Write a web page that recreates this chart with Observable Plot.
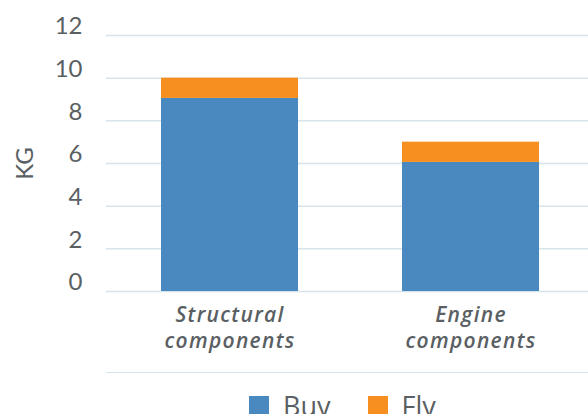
<!DOCTYPE html>
<html>
<head>
<meta charset="utf-8">
<script src="https://cdn.jsdelivr.net/npm/d3@7"></script>
<script src="https://cdn.jsdelivr.net/npm/@observablehq/plot@0.6"></script>
<style>
  html, body { margin: 0; padding: 0; background: #fff; }
  #wrap { width: 588px; font-family: Lato, sans-serif; color: #5a5f63; }
  #legend { margin-left: 106px; border-top: 1.5px solid #d6e4ec; height: 42px; display: flex; justify-content: flex-start; align-items: flex-start; padding-top: 22px; padding-left: 143px; box-sizing: border-box; }
  .item { display: flex; align-items: center; margin-right: 37px; font-family: "Open Sans", sans-serif; font-size: 27px; line-height: 22px; }
  .sw { width: 20px; height: 20px; margin-right: 14px; }
  g[aria-label="x-axis tick label"] { letter-spacing: 1.3px; }
</style>
</head>
<body>
<div id="wrap"><div id="chart"></div><div id="legend"></div></div>
<script>
const categories = ["Structural components", "Engine components"];
const series = ["Buy", "Fly"];
const buy = [9.05, 6.05];
const fly = [0.95, 0.95];
const colors = ["#4a89bf", "#f68f1f"];
const yTicks = [0, 2, 4, 6, 8, 10, 12];

const data = categories.flatMap((c, i) => [
  {category: c, series: "Buy", value: buy[i]},
  {category: c, series: "Fly", value: fly[i]}
]);

const chart = Plot.plot({
  width: 588,
  height: 372,
  marginLeft: 106,
  marginRight: 0,
  marginTop: 35,
  marginBottom: 81,
  style: {fontFamily: "Lato, sans-serif", color: "#5a5f63", background: "#fff", overflow: "visible"},
  x: {domain: categories, range: [109, 591], paddingInner: 0.43, paddingOuter: 0.215, label: null},
  y: {domain: [0, 12], label: "KG"},
  color: {domain: series, range: colors},
  marks: [
    Plot.gridY(yTicks, {stroke: "#d6e4ec", strokeOpacity: 1, strokeWidth: 1.5}),
    Plot.axisY(yTicks, {tickSize: 0, tickPadding: 24, fontSize: 24, dy: -9, label: "KG", labelAnchor: "center", labelArrow: "none", labelOffset: 91}),
    Plot.axisX({tickSize: 0, tickPadding: 12, fontSize: 21, fontFamily: "Open Sans, sans-serif", fontStyle: "italic", fontWeight: 600, lineHeight: 1.25, tickFormat: d => d.replace(" ", "\n")}),
    Plot.barY(data, Plot.stackY({x: "category", y: "value", fill: "series", order: series}))
  ]
});
document.getElementById("chart").append(chart);

const legend = document.getElementById("legend");
series.forEach((s, i) => {
  const item = document.createElement("div");
  item.className = "item";
  const sw = document.createElement("div");
  sw.className = "sw";
  sw.style.background = colors[i];
  const t = document.createElement("span");
  t.textContent = s;
  item.append(sw, t);
  legend.append(item);
});
</script>
</body>
</html>
